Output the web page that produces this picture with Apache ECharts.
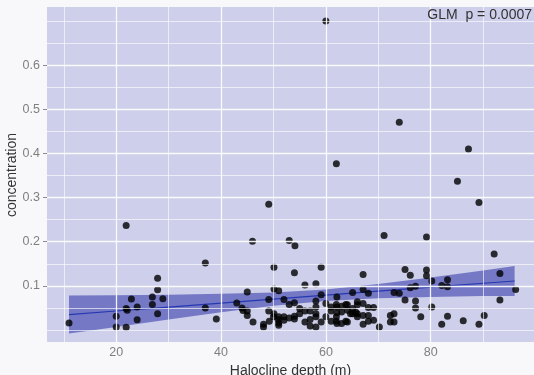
<!DOCTYPE html>
<html>
<head>
<meta charset="utf-8">
<script src="https://cdn.jsdelivr.net/npm/echarts@6/dist/echarts.min.js"></script>
<style>
html,body{margin:0;padding:0;background:#f8f8fb;}
#chart{width:534px;height:375px;}
</style>
</head>
<body>
<div id="chart"></div>
<script>
// ---- data ----
const depth = [11,20,20,21.9,21.9,22.1,21.9,22.9,24,24,26.9,26.9,27.9,27.9,27.9,28.9,
  37,37,39.1,43,44,44.2,45,45,45,46.1,46,
  48.1,48.1,49.1,49.1,49.1,49.2,50.1,50.1,50.1,50,51,51,51,51,52,52,52,50.9,
  53,54.1,54,53,54,54,53,55,54,55,
  56,56,56,57,57,57,58.1,58.1,58.1,58.1,58.1,58.1,59.1,59.1,59.1,60,60,60,
  61,61,62,62.1,62,62.1,62.1,62,62.1,62,63,63,63,63.8,64.1,64.1,64.1,65.1,65.1,65.1,
  66,66,66,66,67.1,67.1,67.1,67.1,67.1,68.1,68.1,68.1,68.1,69.1,69.1,70.2,
  71.1,72.3,72.3,73,73,73,74,74,75.1,75.1,76.1,76.1,77.1,77.1,77.1,78.1,79.2,79.2,79.2,80.2,80.2,
  82.1,82.1,83.2,83.2,83.2,85.1,86.2,87.2,89.2,89.2,90.2,92.1,93.2,93.2,96.2,
  61,63.8,64.7,65.7];
const concentration = [0.016,0.031,0.007,0.237,0.049,0.045,0.006,0.070,0.052,0.023,0.075,0.058,0.117,0.091,0.037,0.071,
  0.152,0.050,0.025,0.061,0.050,0.044,0.043,0.086,0.033,0.018,0.201,
  0.013,0.007,0.285,0.069,0.043,0.020,0.142,0.093,0.037,0.030,0.089,0.030,0.016,0.011,0.069,0.030,0.022,0.024,
  0.203,0.191,0.130,0.058,0.062,0.031,0.027,0.049,0.025,0.037,
  0.102,0.043,0.018,0.024,0.009,0.043,0.105,0.066,0.052,0.037,0.030,0.007,0.142,0.080,0.018,0.700,0.060,0.030,
  0.052,0.043,0.377,0.075,0.058,0.052,0.039,0.030,0.015,0.020,0.054,0.041,0.015,0.058,0.057,0.045,0.018,0.085,0.049,0.037,
  0.064,0.057,0.037,0.030,0.126,0.092,0.060,0.033,0.013,0.083,0.051,0.033,0.020,0.051,0.022,0.007,
  0.214,0.033,0.018,0.037,0.018,0.085,0.083,0.471,0.137,0.068,0.124,0.096,0.099,0.066,0.050,0.030,0.211,0.136,0.123,0.111,0.052,
  0.101,0.013,0.114,0.098,0.031,0.337,0.021,0.410,0.289,0.013,0.033,0.172,0.128,0.068,0.092,
  0.020,0.020,0.037,0.040];

// fitted GLM line and its confidence band
const fitX     = [11, 20, 30, 40, 50, 60, 70, 80, 90, 96];
const fitY     = [0.035, 0.043, 0.052, 0.061, 0.070, 0.079, 0.088, 0.097, 0.106, 0.111];
const bandUpper= [0.078, 0.079, 0.080, 0.082, 0.085, 0.092, 0.104, 0.119, 0.135, 0.145];
const bandLower= [-0.008, 0.007, 0.024, 0.040, 0.055, 0.066, 0.072, 0.075, 0.077, 0.077];

const xTicks = [20, 40, 60, 80];
const yTicks = [0.1, 0.2, 0.3, 0.4, 0.5, 0.6];
const xGrid = [10, 20, 30, 40, 50, 60, 70, 80, 90];
const yGrid = [0, 0.05, 0.1, 0.15, 0.2, 0.25, 0.3, 0.35, 0.4, 0.45, 0.5, 0.55, 0.6, 0.65, 0.7];
const annotation = 'GLM  p = 0.0007';
const xTitle = 'Halocline depth (m)';
const yTitle = 'concentration';

// ---- build ----
const FONT = '"Liberation Sans", Arial, Helvetica, sans-serif';
const points = depth.map((d, i) => [d, concentration[i]]);
const fitPts = fitX.map((x, i) => [x, fitY[i]]);
const bandData = fitX.map((x, i) => [x, bandLower[i], bandUpper[i]]);

const gridLines = [];
yGrid.forEach(v => {
  const major = yTicks.some(t => Math.abs(t - v) < 1e-9);
  gridLines.push({ yAxis: v, lineStyle: { color: '#ffffff', width: major ? 1.3 : 0.9, opacity: major ? 0.9 : 0.7, type: 'solid' } });
});
xGrid.forEach(v => {
  const major = xTicks.indexOf(v) >= 0;
  gridLines.push({ xAxis: v, lineStyle: { color: '#ffffff', width: major ? 1.3 : 0.9, opacity: major ? 0.9 : 0.7, type: 'solid' } });
});

const chart = echarts.init(document.getElementById('chart'), null, { renderer: 'canvas' });
chart.setOption({
  animation: false,
  backgroundColor: '#f8f8fb',
  textStyle: { fontFamily: FONT },
  grid: { left: 47, right: 0, top: 7, bottom: 33, show: true, backgroundColor: '#cecfea', borderWidth: 0,
          containLabel: false, outerBoundsMode: 'none' },
  xAxis: {
    type: 'value', min: 6.8, max: 99.7,
    axisLine: { show: false },
    axisTick: { show: true, customValues: xTicks, length: 4, lineStyle: { color: '#8a8a8a' } },
    axisLabel: { customValues: xTicks, color: '#7f7f7f', fontSize: 12.5, margin: 4, fontFamily: FONT },
    splitLine: { show: false },
    name: xTitle, nameLocation: 'middle', nameGap: 18,
    nameTextStyle: { color: '#333', fontSize: 14, fontFamily: FONT }
  },
  yAxis: {
    type: 'value', min: -0.0272, max: 0.732,
    axisLine: { show: false },
    axisTick: { show: true, customValues: yTicks, length: 4, lineStyle: { color: '#8a8a8a' } },
    axisLabel: { customValues: yTicks, color: '#7f7f7f', fontSize: 12.5, margin: 7, fontFamily: FONT },
    splitLine: { show: false }
  },
  graphic: [
    {
      type: 'text', right: 2, top: 8, z: 10,
      style: { text: annotation, fill: '#333', font: '14px ' + FONT }
    },
    {
      type: 'text', x: 12, y: 175, rotation: Math.PI / 2, z: 10,
      style: { text: yTitle, fill: '#333', font: '14px ' + FONT, align: 'center', verticalAlign: 'middle' }
    }
  ],
  series: [
    {
      type: 'scatter', data: [], z: 0, silent: true,
      markLine: { silent: true, symbol: ['none', 'none'], label: { show: false }, data: gridLines, animation: false }
    },
    {
      type: 'custom', data: bandData, z: 2, silent: true,
      encode: { x: 0, y: [1, 2] },
      renderItem: function (params, api) {
        if (params.dataIndex !== 0) return null;
        const upper = bandData.map(d => api.coord([d[0], d[2]]));
        const lower = bandData.map(d => api.coord([d[0], d[1]])).reverse();
        return {
          type: 'polygon',
          shape: { points: upper.concat(lower) },
          style: { fill: '#7478c5', stroke: 'none' }
        };
      }
    },
    {
      type: 'line', data: fitPts, symbol: 'none', z: 3, silent: true,
      lineStyle: { color: '#2638b0', width: 1.2 }
    },
    {
      type: 'scatter', data: points, symbol: 'circle', symbolSize: 7, z: 4,
      itemStyle: { color: '#000000' }
    }
  ]
});
</script>
</body>
</html>
